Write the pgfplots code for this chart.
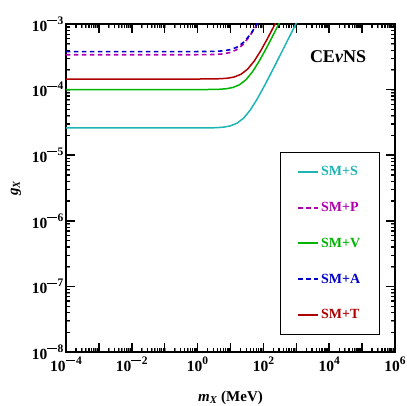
\documentclass[border=0pt]{standalone}
\usepackage{pgfplots}
\pgfplotsset{compat=1.18}
\usepackage{fontspec}
\setmainfont{Liberation Serif}
\definecolor{cS}{RGB}{30,180,180}
\definecolor{cP}{RGB}{175,0,175}
\definecolor{cV}{RGB}{0,180,0}
\definecolor{cA}{RGB}{0,0,200}
\definecolor{cT}{RGB}{175,0,0}
\newcommand\mn{\rule[0.26em]{0.85em}{0.08em}\kern0.05em}
\newcommand\tl[1]{10\raisebox{0.45em}{\fontsize{11.5}{12}\selectfont #1}}
% minor tick positions, 2..9 in every decade
\def\minorx{2e-4}
\foreach \e in {-4,...,5}{\foreach \m in {2,...,9}{\xdef\minorx{\minorx,\m e\e}}}
\def\minory{2e-8}
\foreach \e in {-8,...,-4}{\foreach \m in {2,...,9}{\xdef\minory{\minory,\m e\e}}}
\begin{document}
\begin{tikzpicture}
\begin{axis}[
  scale only axis, width=329pt, height=328pt,
  xmode=log, ymode=log,
  xmin=1e-4, xmax=1e6, ymin=1e-8, ymax=1e-3,
  xtick={1e-4,1e-3,1e-2,1e-1,1,10,100,1e3,1e4,1e5,1e6},
  xticklabels={\tl{\mn4},,\tl{\mn2},,\tl{0},,\tl{2},,\tl{4},,\tl{6}},
  ytick={1e-8,1e-7,1e-6,1e-5,1e-4,1e-3},
  yticklabels={\tl{\mn8},\tl{\mn7},\tl{\mn6},\tl{\mn5},\tl{\mn4},\tl{\mn3}},
  tick label style={font=\fontsize{15.5}{17}\selectfont\bfseries},
  xticklabel style={yshift=-1pt},
  yticklabel style={xshift=1pt},
  tick align=inside,
  xtick pos=both, ytick pos=both,
  major tick length=9pt, minor tick length=4.5pt,
  every major tick/.append style={draw=black, line width=1.6pt},
  axis line style={line width=1.6pt},
  xlabel={\textbf{\textit{m}\textsubscript{\textit{X}} (MeV)}},
  ylabel={\textbf{\textit{g}\textsubscript{\textit{X}}}},
  label style={font=\fontsize{15}{17}\selectfont},
  xlabel style={yshift=-13pt},
  ylabel style={yshift=4pt},
  legend style={at={(rel axis cs:0.954,0.052)}, anchor=south east,
    draw=black, line width=1.2pt, inner xsep=17pt, inner ysep=12pt,
    font=\fontsize{14}{15}\selectfont\bfseries,
    row sep=21pt, cells={anchor=west}},
  legend image code/.code={\draw[#1, line width=2pt] (0pt,0pt) -- (20pt,0pt);},
]
\coordinate (O) at (rel axis cs:0,0);
\coordinate (E) at (rel axis cs:1,1);
% tick marks on all four sides
\pgfplotsinvokeforeach{-4,...,6}{
  \draw[line width=1.6pt] (axis cs:1e#1,1e-8) -- ++(0pt,9pt);
  \draw[line width=1.6pt] (axis cs:1e#1,1e-3) -- ++(0pt,-9pt);}
\pgfplotsinvokeforeach{-8,...,-3}{
  \draw[line width=1.6pt] (axis cs:1e-4,1e#1) -- ++(9pt,0pt);
  \draw[line width=1.6pt] (axis cs:1e6,1e#1) -- ++(-9pt,0pt);}
\expandafter\pgfplotsinvokeforeach\expandafter{\minorx}{
  \draw[line width=1.2pt] (axis cs:#1,1e-8) -- ++(0pt,4.5pt);
  \draw[line width=1.2pt] (axis cs:#1,1e-3) -- ++(0pt,-4.5pt);}
\expandafter\pgfplotsinvokeforeach\expandafter{\minory}{
  \draw[line width=1.2pt] (axis cs:1e-4,#1) -- ++(4.5pt,0pt);
  \draw[line width=1.2pt] (axis cs:1e6,#1) -- ++(-4.5pt,0pt);}
% SM+S
\addplot[cS, line width=1.5pt] coordinates {
 (1e-4,2.6e-5) (0.794,2.6e-5) (2.512,2.61e-5) (3.981,2.63e-5) (6.310,2.68e-5)
 (10,2.80e-5) (15.85,3.08e-5) (25.12,3.67e-5) (39.81,4.88e-5) (63.10,7.03e-5)
 (100,1.067e-4) (158.5,1.66e-4) (251.2,2.61e-4) (398.1,4.13e-4) (631.0,6.53e-4)
 (1000,1.035e-3)};
\addlegendentry{\textcolor{cS}{SM+S}\hspace{8pt}}
% SM+P
\addplot[cP, line width=1.6pt, dash pattern=on 4.5pt off 3.5pt] coordinates {
 (1e-4,3.40e-4) (0.7413,3.401e-4) (2.344,3.417e-4) (3.715,3.443e-4) (5.888,3.505e-4)
 (9.333,3.658e-4) (14.79,4.019e-4) (23.44,4.808e-4) (37.15,6.375e-4) (58.88,9.194e-4)
 (93.33,1.395e-3)};
\addlegendentry{\textcolor{cP}{SM+P}}
% SM+V
\addplot[cV, line width=1.5pt] coordinates {
 (1e-4,1.0e-4) (0.933,1.0e-4) (2.951,1.005e-4) (4.677,1.012e-4) (7.413,1.031e-4)
 (11.75,1.076e-4) (18.62,1.182e-4) (29.51,1.414e-4) (46.77,1.875e-4) (74.13,2.704e-4)
 (117.5,4.10e-4) (186.2,6.38e-4) (295.1,1.005e-3) (467.7,1.59e-3)};
\addlegendentry{\textcolor{cV}{SM+V}}
% SM+A
\addplot[cA, line width=1.6pt, dash pattern=on 4.5pt off 3.5pt] coordinates {
 (1e-4,3.80e-4) (0.8318,3.80e-4) (2.630,3.819e-4) (4.169,3.848e-4) (6.607,3.918e-4)
 (10.47,4.089e-4) (16.60,4.492e-4) (26.30,5.373e-4) (41.69,7.125e-4) (66.07,1.0275e-3)
 (104.7,1.559e-3)};
\addlegendentry{\textcolor{cA}{SM+A}}
% SM+T
\addplot[cT, line width=1.5pt] coordinates {
 (1e-4,1.45e-4) (1.047,1.45e-4) (3.311,1.457e-4) (5.248,1.468e-4) (8.318,1.495e-4)
 (13.18,1.560e-4) (20.89,1.714e-4) (33.11,2.050e-4) (52.48,2.719e-4) (83.18,3.921e-4)
 (131.8,5.948e-4) (208.9,9.255e-4) (331.1,1.457e-3)};
\addlegendentry{\textcolor{cT}{SM+T}}
\node[font=\fontsize{18}{20}\selectfont\bfseries] at (rel axis cs:0.827,0.899) {CE\textit{ν}NS};
\end{axis}
\pgfresetboundingbox
\path ([shift={(-66pt,-54pt)}]O) rectangle ([shift={(12pt,24pt)}]E);
\end{tikzpicture}
\end{document}
